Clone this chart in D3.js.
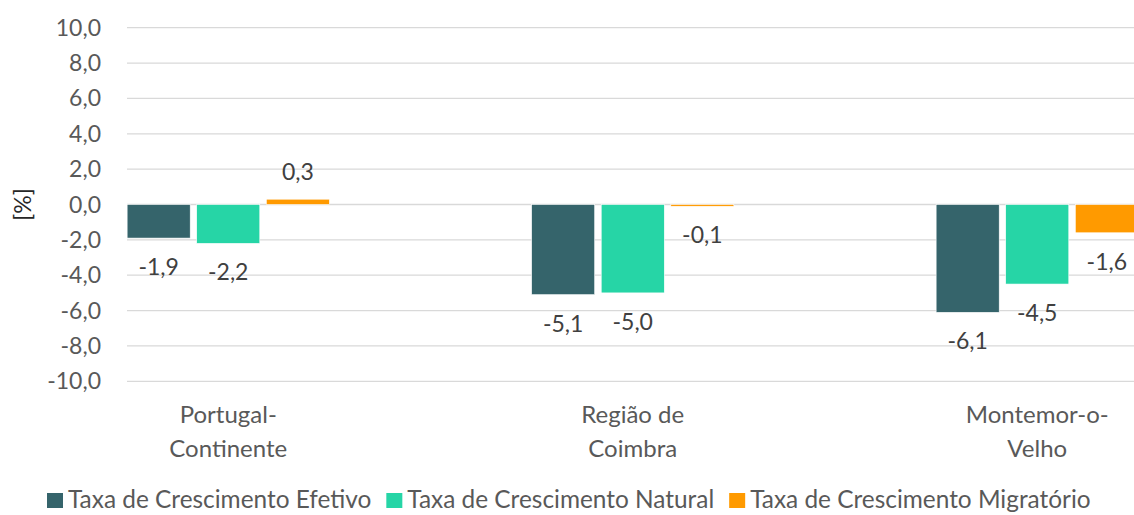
<!DOCTYPE html>
<html lang="pt">
<head>
<meta charset="UTF-8">
<title>Taxas de crescimento</title>
<script src="https://cdn.jsdelivr.net/npm/d3@7"></script>
<style>
body { margin: 0; background: #fff; }
svg { display: block; font-family: Lato, "Open Sans", sans-serif; }
.grid line { stroke: #d9d9d9; stroke-width: 1.3; }
.tick-label { fill: #595959; font-size: 23px; }
.cat-label { fill: #595959; font-size: 24px; }
.val-label { fill: #404040; font-size: 23px; }
.legend text { fill: #595959; font-size: 24.4px; }
</style>
</head>
<body>
<script>
const categories = [["Portugal-", "Continente"], ["Região de", "Coimbra"], ["Montemor-o-", "Velho"]]
const seriesNames = ["Taxa de Crescimento Efetivo", "Taxa de Crescimento Natural", "Taxa de Crescimento Migratório"]
const efetivo = [-1.9, -5.1, -6.1]
const natural = [-2.2, -5.0, -4.5]
const migratorio = [0.3, -0.1, -1.6]
const yTicks = [-10, -8, -6, -4, -2, 0, 2, 4, 6, 8, 10]
const colors = ["#35646b", "#26d5a6", "#ff9a00"]

const width = 1134, height = 515
const svg = d3.select("body").append("svg").attr("width", width).attr("height", height)

const pt = d3.formatLocale({decimal: ",", thousands: ".", grouping: [3], currency: ["", "€"], minus: "-"})
const fmt = pt.format(".1f")

const catKeys = categories.map(c => c.join(" "))
const series = [efetivo, natural, migratorio]

const y = d3.scaleLinear().domain([-10, 10]).range([381.3, 27.7])
const x0 = d3.scaleBand().domain(catKeys).range([26, 26 + 3 * 404.5])
const x1 = d3.scaleBand().domain(d3.range(3))
    .range([x0.bandwidth() * 0.25, x0.bandwidth() * 0.75])
    .paddingInner(6.5 / 69.5)

// gridlines
svg.append("g").attr("class", "grid")
    .selectAll("line").data(yTicks).enter().append("line")
    .attr("x1", 127).attr("x2", width)
    .attr("y1", d => y(d)).attr("y2", d => y(d))

// y tick labels
svg.append("g").selectAll("text").data(yTicks).enter().append("text")
    .attr("class", "tick-label")
    .attr("x", 101).attr("y", d => y(d) + 8)
    .attr("text-anchor", "end")
    .text(d => fmt(d))

// axis title
svg.append("text")
    .attr("transform", `translate(31,${y(0)}) rotate(-90)`)
    .attr("text-anchor", "middle")
    .attr("fill", "#262626").style("font-size", "23px")
    .text("[%]")

// bars
const groups = svg.append("g").selectAll("g").data(catKeys).enter().append("g")
    .attr("transform", d => `translate(${x0(d)},0)`)

groups.each(function (cat, ci) {
    const g = d3.select(this)
    series.forEach((vals, si) => {
        const v = vals[ci]
        g.append("rect")
            .attr("x", x1(si))
            .attr("width", x1.bandwidth())
            .attr("y", y(Math.max(0, v)))
            .attr("height", Math.abs(y(v) - y(0)))
            .attr("fill", colors[si])
            .attr("stroke", "#fff").attr("stroke-width", 0.6)
        g.append("text")
            .attr("class", "val-label")
            .attr("x", x1(si) + x1.bandwidth() / 2)
            .attr("y", v >= 0 ? y(v) - 19 : y(v) + 37)
            .attr("text-anchor", "middle")
            .text(fmt(v))
    })
})

// category labels
groups.append("text")
    .attr("class", "cat-label")
    .attr("text-anchor", "middle")
    .attr("x", x0.bandwidth() / 2)
    .selectAll("tspan").data((d, i) => categories[i]).enter().append("tspan")
    .attr("x", x0.bandwidth() / 2)
    .attr("y", (d, i) => 423 + i * 33.5)
    .text(d => d)

// legend
const legend = svg.append("g").attr("class", "legend")
let lx = 47
seriesNames.forEach((name, i) => {
    legend.append("rect").attr("x", lx).attr("y", 493).attr("width", 16).attr("height", 15).attr("fill", colors[i])
    const t = legend.append("text").attr("x", lx + 21).attr("y", 508).text(name)
    lx += 21 + t.node().getComputedTextLength() + 15
})
</script>
</body>
</html>
